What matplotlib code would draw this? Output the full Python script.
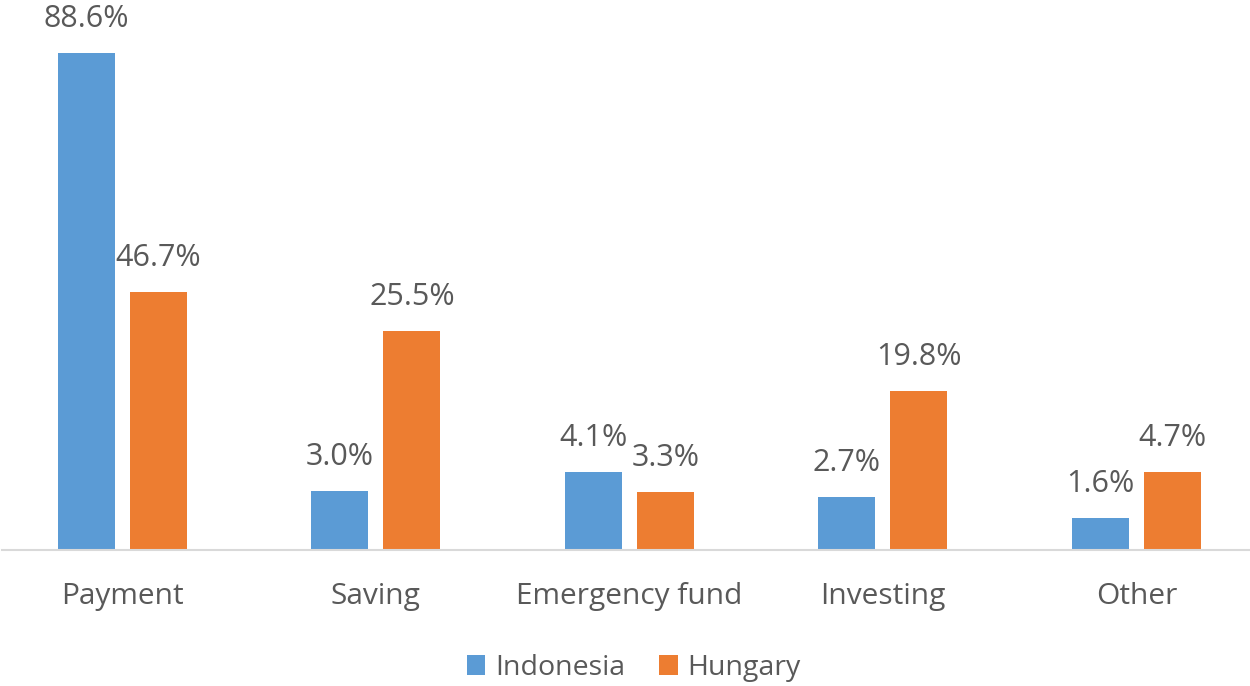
import matplotlib
matplotlib.use("Agg")
import matplotlib.pyplot as plt
import numpy as np

categories = ["Payment", "Saving", "Emergency fund", "Investing", "Other"]
series_names = ["Indonesia", "Hungary"]
# bar heights as drawn in the picture (same scale as the 88.6 bar)
indonesia_heights = [88.6, 10.5, 13.9, 9.4, 5.7]
hungary_heights = [46.0, 39.0, 10.3, 28.3, 13.9]
# data labels as printed
indonesia_labels = ["88.6%", "3.0%", "4.1%", "2.7%", "1.6%"]
hungary_labels = ["46.7%", "25.5%", "3.3%", "19.8%", "4.7%"]

colors = ["#5b9bd5", "#ed7d31"]
text_color = "#595959"

plt.rcParams['font.family'] = ['Open Sans', 'DejaVu Sans']

fig = plt.figure(figsize=(12.5, 6.86), dpi=100)
ax = fig.add_axes([0.0016, 136/686, 0.9984, 550/686])

x = np.arange(len(categories))
w = 0.225
off = 0.142
b1 = ax.bar(x - off, indonesia_heights, w, color=colors[0], label=series_names[0])
b2 = ax.bar(x + off, hungary_heights, w, color=colors[1], label=series_names[1])

for bars, labels in ((b1, indonesia_labels), (b2, hungary_labels)):
    for r, lab in zip(bars, labels):
        ax.annotate(lab, (r.get_x() + r.get_width() / 2, r.get_height()),
                    xytext=(0, 26), textcoords='offset pixels',
                    ha='center', va='baseline', fontsize=22, color=text_color)

ax.set_xlim(-0.475, 4.448)
ax.set_ylim(0, 88.6 * 550 / 497)
ax.set_xticks(x)
ax.set_xticklabels(categories, fontsize=21.5, color=text_color)
ax.tick_params(axis='x', length=0, pad=23)
ax.set_yticks([])
for s in ['top', 'right', 'left']:
    ax.spines[s].set_visible(False)
ax.spines['bottom'].set_color('#d9d9d9')
ax.spines['bottom'].set_linewidth(1.5)

fig.legend(handles=[b1, b2], labels=series_names, loc='center',
           bbox_to_anchor=(0.507, 1 - 668 / 686), ncol=2, frameon=False,
           fontsize=20.5, labelcolor=text_color, handlelength=0.65, handleheight=0.65,
           handletextpad=0.35, columnspacing=1.2)

fig.savefig("out.png", dpi=100)
